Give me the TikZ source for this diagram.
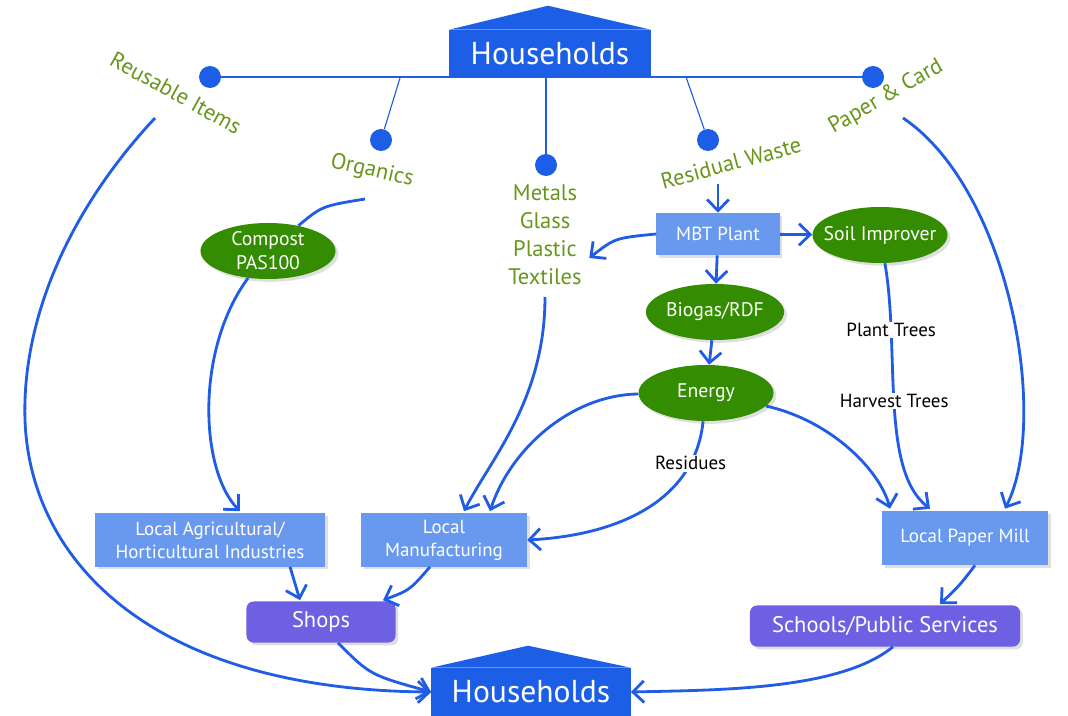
\documentclass[tikz,border=0pt]{standalone}
\usepackage{fontspec}
\setmainfont{PT Sans}
\usetikzlibrary{shapes.geometric, arrows.meta, positioning, calc, shadows}
\definecolor{hblue}{RGB}{28,94,230}
\definecolor{flowblue}{RGB}{32,92,228}
\definecolor{boxblue}{RGB}{104,153,238}
\definecolor{leaf}{RGB}{52,140,0}
\definecolor{olive}{RGB}{104,150,28}
\definecolor{purp}{RGB}{110,96,226}
\tikzstyle{house} = [rectangle, fill=hblue, text=white, inner sep=0pt, minimum width=5.025cm, minimum height=1.175cm, font=\fontsize{22.5}{26}\selectfont]
\tikzstyle{plant} = [rectangle, fill=boxblue, text=white, inner sep=0pt, align=center, font=\fontsize{13.5}{16.5}\selectfont, drop shadow={opacity=0.25, shadow xshift=0.7mm, shadow yshift=-0.7mm}]
\tikzstyle{product} = [ellipse, fill=leaf, text=white, inner sep=0pt, align=center, minimum width=3.375cm, minimum height=1.4cm, font=\fontsize{14}{17}\selectfont, drop shadow={opacity=0.25, shadow xshift=0.7mm, shadow yshift=-0.7mm}]
\tikzstyle{outlet} = [rectangle, rounded corners=5pt, fill=purp, text=white, inner sep=0pt, minimum height=1.025cm, font=\fontsize{16}{19}\selectfont, drop shadow={opacity=0.25, shadow xshift=0.7mm, shadow yshift=-0.7mm}]
\tikzstyle{stream} = [text=olive, inner sep=1pt, align=center, font=\fontsize{16}{20}\selectfont]
\tikzstyle{dot} = [circle, fill=hblue, inner sep=0pt, minimum size=0.55cm]
\tikzstyle{note} = [fill=white, inner sep=1pt, font=\fontsize{13.5}{16}\selectfont]
\tikzstyle{branch} = [draw=flowblue, line width=0.8pt]
\tikzstyle{flow} = [draw=flowblue, line width=2pt, -{Straight Barb[length=2.8mm, width=5.4mm, line width=2pt]}]

\begin{document}
\begin{tikzpicture}[x=0.025cm, y=-0.025cm]
\fill[white] (0,0) rectangle (1068,716);
\useasboundingbox (0,0) rectangle (1068,716);

% Households on top and the collection line
\node (hhtop) [house] at (550,53.5) {Households};
\fill[hblue] (hhtop.north west) -- ($(hhtop.north)+(-2,-24)$) -- (hhtop.north east) -- cycle;
\node (dreuse) [dot] at (210,77) {};
\node (dorg) [dot] at (381,140) {};
\node (dmetals) [dot] at (546,165) {};
\node (dresid) [dot] at (708,140) {};
\node (dpaper) [dot] at (873,77) {};
\draw [branch] (dreuse) -- (dpaper);
\draw [branch] ($(dreuse)!0.287!(dpaper)$) -- (dorg);
\draw [branch] (dmetals |- dreuse) -- (dmetals);
\draw [branch] ($(dreuse)!0.718!(dpaper)$) -- (dresid);

% Waste streams
\node (reuse) [stream, rotate=-29] at (176,93) {Reusable Items};
\node (org) [stream, rotate=-13] at (372,171) {Organics};
\node (metals) [stream] at (545,235) {Metals\\Glass\\Plastic\\Textiles};
\node (resid) [stream, rotate=15] at (731,163) {Residual Waste};
\node (paper) [stream, rotate=30] at (886,97) {Paper \& Card};
\coordinate (reuseout) at (155,118);
\coordinate (reusebend) at (25,420);
\coordinate (orgout) at (365,199);
\coordinate (metalsout) at (545,297);
\coordinate (residout) at (718,184);
\coordinate (paperout) at (903,118);

% Plants and products
\node (mbt) [plant, minimum width=3.075cm, minimum height=1.05cm] at (718,234) {MBT Plant};
\node (soil) [product, inner xsep=-7pt] at (880,235) {Soil Improver};
\node (compost) [product] at (268,251) {Compost\\PAS100};
\node (biogas) [product] at (715,312) {Biogas/RDF};
\node (energy) [product] at (706,393) {Energy};
\node (agri) [plant, minimum width=5.75cm, minimum height=1.325cm] at (210,540) {Local Agricultural/\\Horticultural Industries};
\node (manuf) [plant, minimum width=4.15cm, minimum height=1.325cm] at (444,540) {Local\\Manufacturing};
\node (mill) [plant, minimum width=4.15cm, minimum height=1.35cm] at (965,538) {Local Paper Mill};
\node (shops) [outlet, minimum width=3.725cm] at (321,622) {Shops};
\node (schools) [outlet, minimum width=6.75cm] at (885,626) {Schools/Public Services};

% Households at the bottom
\node (hhbot) [house, minimum width=4.975cm, minimum height=1.2cm] at (531,692) {Households};
\fill[hblue] (hhbot.north west) -- ($(hhbot.north)+(-3,-22)$) -- (hhbot.north east) -- cycle;

% Flows
\draw [flow] (reuseout) .. controls (60,220) and (22,330) .. (reusebend)
  .. controls (30,560) and (150,690) .. (hhbot.west);
\draw [flow, -] (orgout) .. controls (322,206) .. (compost);
\draw [flow] (compost) .. controls (195,350) and (200,470) .. ($(agri.north)+(30,-2)$);
\draw [flow] (metalsout) .. controls (545,400) and (490,460) .. ($(manuf.north)+(20,-2)$);
\draw [flow] (residout) -- (mbt);
\draw [flow] (mbt.west) .. controls (615,238) .. ($(metals.east)+(6,23)$);
\draw [flow] (mbt) -- (soil);
\draw [flow] (mbt) -- (biogas);
\draw [flow] (biogas) -- (energy);
\draw [flow] (energy) .. controls (570,395) and (510,450) .. ($(manuf.north)+(46,-2)$);
\draw [flow] (energy) .. controls (695,500) and (620,535) .. (manuf.east) node [note, pos=0.2] {Residues};
\draw [flow] (energy) .. controls (830,420) and (880,470) .. ($(mill.north)+(-75,-2)$);
\draw [flow] (soil) .. controls (900,350) and (880,470) .. ($(mill.north)+(-35,-2)$)
  node [note, pos=0.24] {Plant Trees}
  node [note, pos=0.49] {Harvest Trees};
\draw [flow] (paperout) .. controls (1010,190) and (1050,420) .. ($(mill.north)+(40,-2)$);
\draw [flow] ($(agri.south)+(80,0)$) -- ($(shops.north)+(-21,-1)$);
\draw [flow] ($(manuf.south)+(-14,0)$) .. controls (410,590) .. ($(shops.north)+(62,-1)$);
\draw [flow] ($(mill.south)+(10,0)$) .. controls (960,585) .. ($(schools.north)+(55,-1)$);
\draw [flow] ($(shops.south)+(17,0)$) .. controls (370,675) .. (hhbot.west);
\draw [flow] ($(schools.south)+(8,0)$) .. controls (840,690) and (720,690) .. (hhbot.east);

\end{tikzpicture}
\end{document}
